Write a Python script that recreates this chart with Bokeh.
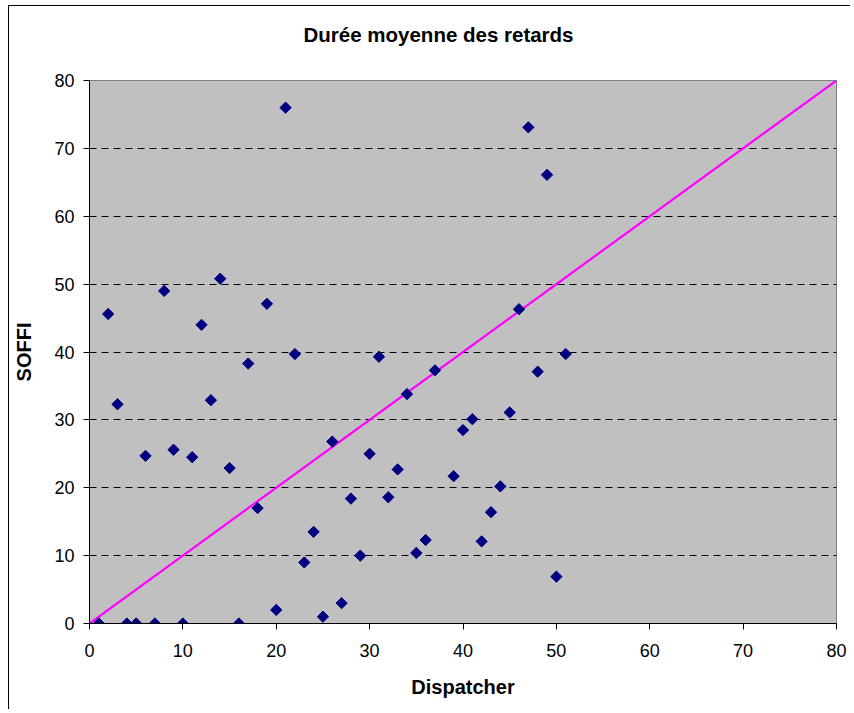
import numpy as np
from bokeh.plotting import figure
from bokeh.models import Range1d, FixedTicker, Title
from bokeh.embed import file_html
from bokeh.resources import INLINE

# Data
dispatcher = [1, 2, 3, 4, 5, 6, 7, 8, 9, 10, 11, 12, 13, 14, 15, 16, 17, 18, 19, 20,
              21, 22, 23, 24, 25, 26, 27, 28, 29, 30, 31, 32, 33, 34, 35, 36, 37,
              39, 40, 41, 42, 43, 44, 45, 46, 47, 48, 49, 50, 51]
soffi = [0, 45.6, 32.3, 0, 0, 24.7, 0, 49.0, 25.6, 0, 24.5, 44.0, 32.9, 50.8, 22.9, 0,
         38.3, 17.0, 47.1, 2.0, 76.0, 39.7, 9.0, 13.5, 1.0, 26.8, 3.0, 18.4, 10.0, 25.0,
         39.3, 18.6, 22.7, 33.8, 10.4, 12.3, 37.3,
         21.7, 28.5, 30.1, 12.1, 16.4, 20.2, 31.1, 46.3, 73.1, 37.1, 66.1, 6.9, 39.7]
diag_x = [0, 81]
diag_y = [0, 81]
ticks = [0, 10, 20, 30, 40, 50, 60, 70, 80]
title_text = "Durée moyenne des retards"

FONT = "Liberation Sans"

p = figure(
    output_backend="svg", toolbar_location=None,
    frame_width=747, frame_height=543,
    min_border_left=80, min_border_top=74, min_border_bottom=86, min_border_right=14,
    x_range=Range1d(0, 80), y_range=Range1d(0, 80),
    background_fill_color="#C0C0C0", border_fill_color="white",
    outline_line_color="#808080",
    title=None,
)
p.styles = {"margin-left": "8px", "margin-top": "5px",
            "border-left": "1px solid black", "border-top": "1px solid black"}

# spacer between the title and the plot area (white on white, so not seen)
spacer = Title(text=".", standoff=32, text_font_size="1px", text_color="white")
p.add_layout(spacer, "above")
t = Title(text=title_text, align="left", offset=214,
          text_font=FONT, text_font_size="20.5px", text_font_style="bold",
          text_color="black", standoff=0)
p.add_layout(t, "above")

# grid
p.xgrid.visible = False
p.ygrid.ticker = FixedTicker(ticks=ticks)
p.ygrid.grid_line_color = "black"
p.ygrid.grid_line_dash = "7 5"
p.ygrid.grid_line_width = 1

for ax in (p.xaxis[0], p.yaxis[0]):
    ax.ticker = FixedTicker(ticks=ticks)
    ax.minor_tick_line_color = None
    ax.major_tick_in = 0
    ax.major_tick_out = 6
    ax.major_tick_line_color = "black"
    ax.axis_line_color = "black"
    ax.major_label_text_font = FONT
    ax.major_label_text_font_size = "18px"
    ax.major_label_text_color = "black"
    ax.axis_label_text_font = FONT
    ax.axis_label_text_font_size = "20px"
    ax.axis_label_text_font_style = "bold"
    ax.axis_label_text_color = "black"

p.xaxis.axis_label = "Dispatcher"
p.yaxis.axis_label = "SOFFI"
p.yaxis.major_label_standoff = 9
p.yaxis.axis_label_standoff = 16
p.xaxis.major_label_standoff = 14
p.xaxis.axis_label_standoff = 16

p.line(diag_x, diag_y, line_color="#FF00FF", line_width=2.2)
p.scatter(dispatcher, soffi, marker="square", angle=np.pi / 4, size=8,
          fill_color="#000080", line_color="#000080")

open("out.html", "w").write(file_html(p, INLINE))
